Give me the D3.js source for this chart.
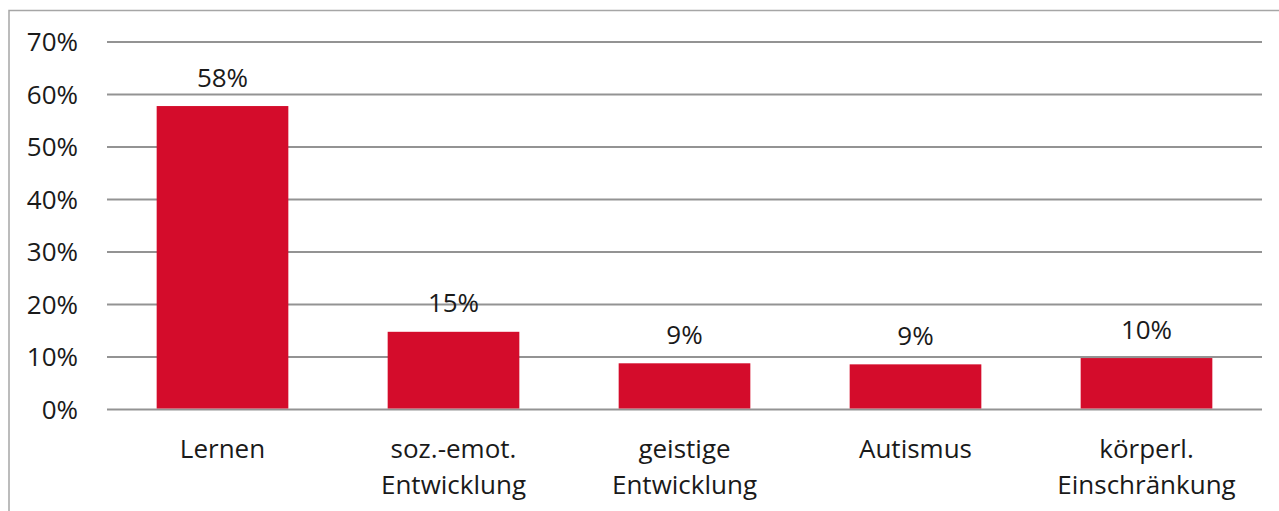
<!DOCTYPE html>
<html lang="de">
<head>
<meta charset="UTF-8"/>
<title>Förderschwerpunkte</title>
<script src="https://cdn.jsdelivr.net/npm/d3@7"></script>
<style>
body { margin: 0; background: #fff; }
svg { display: block; }
text { font-family: "Open Sans", sans-serif; font-size: 26px; fill: #1a1a1a; }
.grid line { stroke: #939393; stroke-width: 2px; }
.frame { stroke: #a6a6a6; stroke-width: 1.5px; fill: none; }
</style>
</head>
<body>
<svg id="chart"></svg>
<script>
// data
var categories = [["Lernen"], ["soz.-emot.", "Entwicklung"], ["geistige", "Entwicklung"], ["Autismus"], ["körperl.", "Einschränkung"]];
var values = [57.8, 14.8, 8.8, 8.6, 9.8];
var yTicks = [0, 10, 20, 30, 40, 50, 60, 70];

var width = 1279, height = 511;
var plot = {left: 107, right: 1262, top: 42, bottom: 409.5};

var svg = d3.select("#chart").attr("width", width).attr("height", height);

// outer frame (top + left edge only visible)
svg.append("path")
  .attr("class", "frame")
  .attr("d", "M9," + height + "V10.5H" + width);

var x = d3.scaleBand()
  .domain(d3.range(values.length))
  .range([plot.left, plot.right])
  .paddingInner(0.43)
  .paddingOuter(0.215);

var y = d3.scaleLinear().domain([0, 70]).range([plot.bottom, plot.top]);

// gridlines
var grid = svg.append("g").attr("class", "grid");
grid.selectAll("line")
  .data(yTicks)
  .enter().append("line")
  .attr("x1", plot.left)
  .attr("x2", plot.right)
  .attr("y1", function(d) { return y(d); })
  .attr("y2", function(d) { return y(d); });

// y labels
svg.append("g").selectAll("text")
  .data(yTicks)
  .enter().append("text")
  .attr("x", 78)
  .attr("y", function(d) { return y(d) + 9; })
  .attr("text-anchor", "end")
  .text(function(d) { return d + "%"; });

// bars
svg.append("g").selectAll("rect")
  .data(values)
  .enter().append("rect")
  .attr("x", function(d, i) { return x(i); })
  .attr("y", function(d) { return y(d); })
  .attr("width", x.bandwidth())
  .attr("height", function(d) { return y(0) - y(d) - 1; })
  .attr("fill", "#d40c2b");

// value labels
svg.append("g").selectAll("text")
  .data(values)
  .enter().append("text")
  .attr("x", function(d, i) { return x(i) + x.bandwidth() / 2; })
  .attr("y", function(d) { return y(d) - 19.5; })
  .attr("text-anchor", "middle")
  .text(function(d) { return Math.round(d) + "%"; });

// category labels
var cat = svg.append("g").selectAll("text")
  .data(categories)
  .enter().append("text")
  .attr("text-anchor", "middle")
  .attr("y", 458);
cat.selectAll("tspan")
  .data(function(d, i) { return d.map(function(s) { return {s: s, i: i}; }); })
  .enter().append("tspan")
  .attr("x", function(d) { return x(d.i) + x.bandwidth() / 2; })
  .attr("dy", function(d, j) { return j ? 36 : 0; })
  .text(function(d) { return d.s; });
</script>
</body>
</html>
